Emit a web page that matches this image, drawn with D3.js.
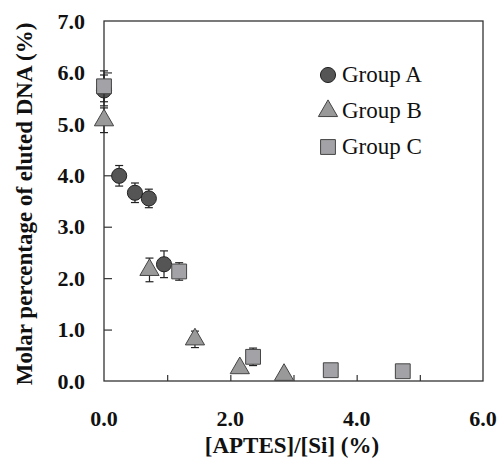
<!DOCTYPE html>
<html>
<head>
<meta charset="utf-8">
<script src="https://cdn.jsdelivr.net/npm/d3@7"></script>
<style>
  body { margin: 0; background: #fff; }
  text { font-family: "Liberation Serif", "Times New Roman", serif; }
</style>
</head>
<body>
<div id="chart"></div>
<script>
// values
var groupNames = ["Group A", "Group B", "Group C"];
var groupA_x = [0.0, 0.24, 0.49, 0.71, 0.95];
var groupA_y = [5.65, 3.99, 3.66, 3.55, 2.27];
var groupA_err = [0.3, 0.2, 0.19, 0.18, 0.26];
var groupB_x = [0.0, 0.72, 1.44, 2.15, 2.85];
var groupB_y = [5.07, 2.16, 0.81, 0.25, 0.12];
var groupB_err = [0.24, 0.23, 0.16, 0.05, 0.04];
var groupC_x = [0.0, 1.19, 2.36, 3.59, 4.73];
var groupC_y = [5.73, 2.13, 0.47, 0.21, 0.19];
var groupC_err = [0.3, 0.17, 0.17, 0.04, 0.05];
var xTickLabels = ["0.0", "2.0", "4.0", "6.0"];
var yTickLabels = ["0.0", "1.0", "2.0", "3.0", "4.0", "5.0", "6.0", "7.0"];

var svgWidth = 498, svgHeight = 468;
var margin = {top: 21, right: 15, bottom: 87, left: 104};
var chartWidth = svgWidth - margin.left - margin.right;
var chartHeight = svgHeight - margin.top - margin.bottom;

var svg = d3.select("#chart").append("svg")
  .attr("width", svgWidth)
  .attr("height", svgHeight);

var chartGroup = svg.append("g")
  .attr("transform", `translate(${margin.left}, ${margin.top})`);

var xScale = d3.scaleLinear().domain([0, 6]).range([0, chartWidth]);
var yScale = d3.scaleLinear().domain([0, 7]).range([chartHeight, 0]);

// frame
chartGroup.append("rect")
  .attr("width", chartWidth).attr("height", chartHeight)
  .attr("fill", "none").attr("stroke", "#333").attr("stroke-width", 1.3);

// inward ticks
var xAxis = d3.axisTop(xScale).tickValues(d3.range(1, 6)).tickSize(6).tickFormat("");
chartGroup.append("g").attr("transform", `translate(0,${chartHeight})`).call(xAxis)
  .call(g => g.select(".domain").remove())
  .selectAll("line").attr("stroke", "#333").attr("stroke-width", 1.2);

var yAxis = d3.axisRight(yScale).tickValues(d3.range(1, 7)).tickSize(8).tickFormat("");
chartGroup.append("g").call(yAxis)
  .call(g => g.select(".domain").remove())
  .selectAll("line").attr("stroke", "#333").attr("stroke-width", 1.2);

// tick labels
chartGroup.selectAll(".xlab").data(xTickLabels).enter().append("text")
  .attr("x", d => xScale(+d))
  .attr("y", chartHeight + 45)
  .attr("text-anchor", "middle")
  .attr("font-size", 22).attr("font-weight", "bold").attr("fill", "#111")
  .text(d => d);

chartGroup.selectAll(".ylab").data(yTickLabels).enter().append("text")
  .attr("x", -19)
  .attr("y", d => yScale(+d))
  .attr("dy", "0.35em")
  .attr("text-anchor", "end")
  .attr("font-size", 22).attr("font-weight", "bold").attr("fill", "#111")
  .text(d => d);

// axis titles
svg.append("text")
  .attr("x", 292)
  .attr("y", 453)
  .attr("text-anchor", "middle")
  .attr("font-size", 23).attr("font-weight", "bold").attr("fill", "#111")
  .text("[APTES]/[Si] (%)");

svg.append("text")
  .attr("transform", "translate(32,204) rotate(-90)")
  .attr("text-anchor", "middle")
  .attr("font-size", 23).attr("font-weight", "bold").attr("fill", "#111")
  .text("Molar percentage of eluted DNA (%)");

var series = [
  {name: groupNames[0], x: groupA_x, y: groupA_y, err: groupA_err, symbol: d3.symbolCircle, size: 180, fill: "#555", stroke: "#222"},
  {name: groupNames[1], x: groupB_x, y: groupB_y, err: groupB_err, symbol: d3.symbolTriangle, size: 160, fill: "#999", stroke: "#444"},
  {name: groupNames[2], x: groupC_x, y: groupC_y, err: groupC_err, symbol: d3.symbolSquare, size: 220, fill: "#a3a3a7", stroke: "#444"}
];

series.forEach(function(s) {
  var pts = s.x.map((v, i) => ({x: v, y: s.y[i], e: s.err[i]}));
  var eb = chartGroup.append("g").selectAll("g").data(pts).enter().append("g")
    .attr("stroke", "#222").attr("stroke-width", 1.2);
  eb.append("line")
    .attr("x1", d => xScale(d.x)).attr("x2", d => xScale(d.x))
    .attr("y1", d => yScale(d.y + d.e)).attr("y2", d => yScale(d.y - d.e));
  eb.append("line")
    .attr("x1", d => xScale(d.x) - 4).attr("x2", d => xScale(d.x) + 4)
    .attr("y1", d => yScale(d.y + d.e)).attr("y2", d => yScale(d.y + d.e));
  eb.append("line")
    .attr("x1", d => xScale(d.x) - 4).attr("x2", d => xScale(d.x) + 4)
    .attr("y1", d => yScale(d.y - d.e)).attr("y2", d => yScale(d.y - d.e));

  chartGroup.append("g").selectAll("path").data(pts).enter().append("path")
    .attr("d", d3.symbol().type(s.symbol).size(s.size))
    .attr("transform", d => `translate(${xScale(d.x)},${yScale(d.y)})`)
    .attr("fill", s.fill).attr("stroke", s.stroke).attr("stroke-width", 1);
});

// legend
var legend = svg.append("g").attr("transform", "translate(328,75)");
series.forEach(function(s, i) {
  var row = legend.append("g").attr("transform", `translate(0,${i * 36})`);
  row.append("path")
    .attr("d", d3.symbol().type(s.symbol).size(s.size))
    .attr("fill", s.fill).attr("stroke", s.stroke).attr("stroke-width", 1);
  row.append("text")
    .attr("x", 14).attr("y", 7)
    .attr("font-size", 23).attr("fill", "#111")
    .text(s.name);
});
</script>
</body>
</html>
